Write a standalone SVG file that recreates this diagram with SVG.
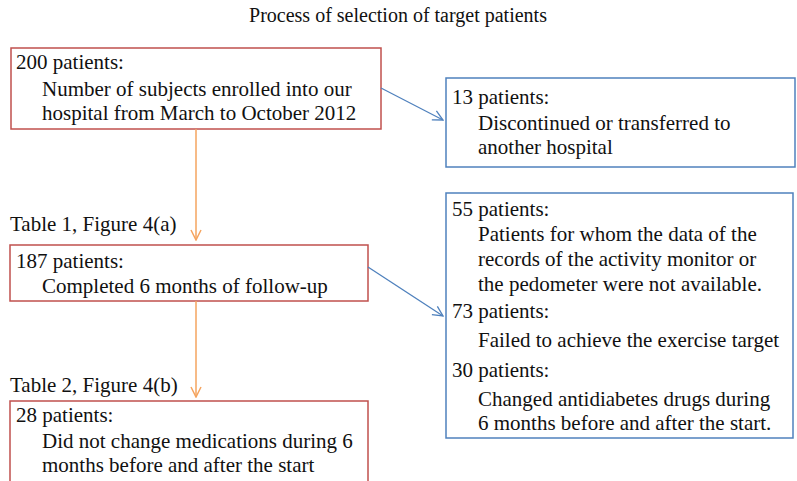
<svg xmlns="http://www.w3.org/2000/svg" width="797" height="481" viewBox="0 0 797 481">
<defs>
<style>
text{font-family:"Liberation Serif","Times New Roman",serif;font-size:21px;fill:#111}
.title{font-size:20px}
.red{fill:#fff;stroke:#C0504D;stroke-width:1.5}
.blue{fill:#fff;stroke:#4F81BD;stroke-width:1.5}
.or{stroke:#F5A45F;stroke-width:1.5;fill:none}
.bl{stroke:#4F81BD;stroke-width:1.3;fill:none}
</style>
<marker id="ao" viewBox="0 0 12 12" refX="11" refY="6" markerWidth="12" markerHeight="12" markerUnits="userSpaceOnUse" orient="auto"><path d="M1,1 L11,6 L1,11" fill="none" stroke="#F5A45F" stroke-width="1.5"/></marker>
<marker id="ab" viewBox="0 0 12 12" refX="11" refY="6" markerWidth="12" markerHeight="12" markerUnits="userSpaceOnUse" orient="auto"><path d="M1,1 L11,6 L1,11" fill="none" stroke="#4F81BD" stroke-width="1.3"/></marker>
</defs>
<rect width="797" height="481" fill="#fff"/>
<text class="title" x="398" y="22" text-anchor="middle">Process of selection of target patients</text>
<g id="n200">
<rect class="red" x="11" y="48" width="370" height="81"/>
<text x="16" y="69">200 patients:</text>
<text x="42" y="96">Number of subjects enrolled into our</text>
<text x="42" y="120">hospital from March to October 2012</text>
</g>
<g id="n13">
<rect class="blue" x="446" y="78" width="349" height="89"/>
<text x="452" y="104">13 patients:</text>
<text x="478" y="130">Discontinued or transferred to</text>
<text x="478" y="154">another hospital</text>
</g>
<text x="10" y="231">Table 1, Figure 4(a)</text>
<g id="n187">
<rect class="red" x="10" y="245" width="358" height="56"/>
<text x="16" y="268">187 patients:</text>
<text x="42" y="293">Completed 6 months of follow-up</text>
</g>
<g id="nexcl">
<rect class="blue" x="446" y="193" width="347" height="245"/>
<text x="452" y="216">55 patients:</text>
<text x="478" y="241">Patients for whom the data of the</text>
<text x="478" y="266">records of the activity monitor or</text>
<text x="478" y="291">the pedometer were not available.</text>
<text x="452" y="318">73 patients:</text>
<text x="478" y="347">Failed to achieve the exercise target</text>
<text x="452" y="377">30 patients:</text>
<text x="478" y="406">Changed antidiabetes drugs during</text>
<text x="478" y="430">6 months before and after the start.</text>
</g>
<text x="10" y="392">Table 2, Figure 4(b)</text>
<g id="n28">
<rect class="red" x="10" y="401" width="358" height="90"/>
<text x="16" y="422">28 patients:</text>
<text x="42" y="448">Did not change medications during 6</text>
<text x="42" y="472">months before and after the start</text>
</g>
<g id="connectors">
<line class="or" x1="196" y1="129" x2="196" y2="240" marker-end="url(#ao)"/>
<line class="or" x1="196" y1="301" x2="196" y2="397" marker-end="url(#ao)"/>
<line class="bl" x1="381" y1="88" x2="443" y2="120" marker-end="url(#ab)"/>
<line class="bl" x1="368" y1="267" x2="443" y2="316" marker-end="url(#ab)"/>
</g>
</svg>
